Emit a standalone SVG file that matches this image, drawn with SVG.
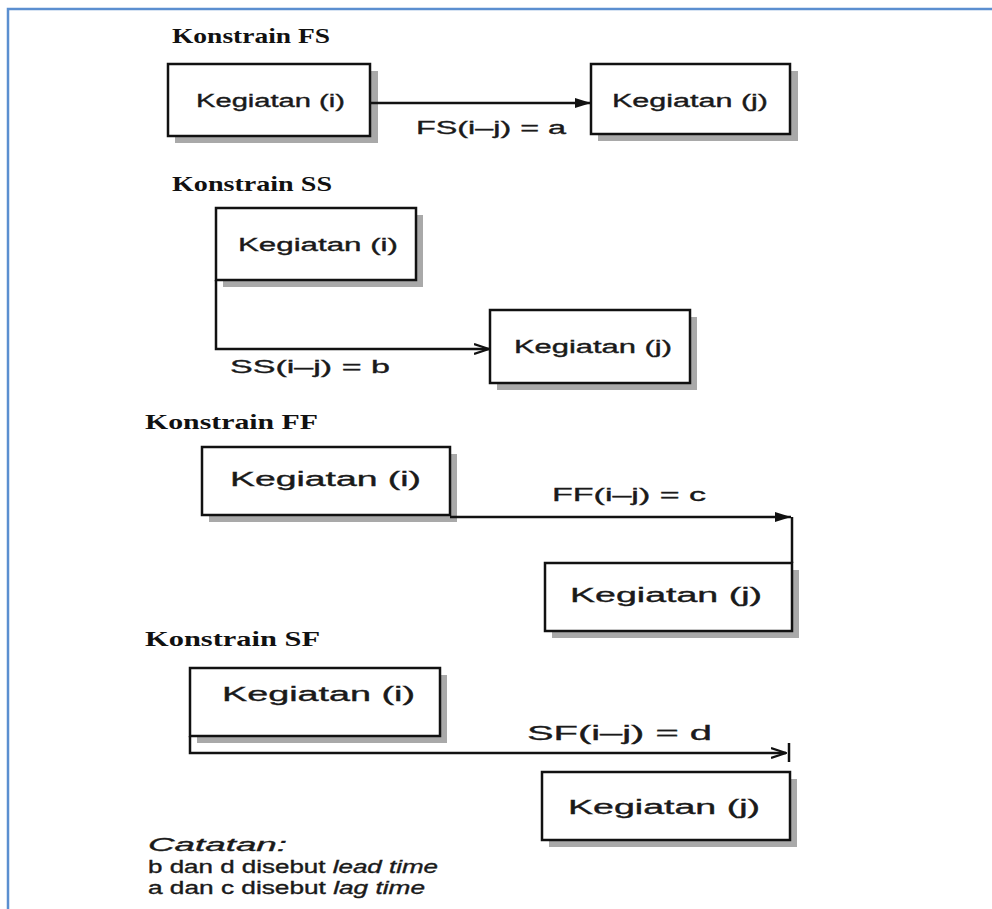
<svg xmlns="http://www.w3.org/2000/svg" width="992" height="909" viewBox="0 0 992 909">
<style>
.frame{fill:none;stroke:#5b8fd0;stroke-width:2.5}
.box{fill:#fff;stroke:#111;stroke-width:2.5}
.shadow{fill:#a9a9a9}
.t{font-family:"Liberation Sans",Arial,sans-serif;fill:#1a1a1a;stroke:#1a1a1a;stroke-width:0.35}
.title{font-family:"Liberation Serif","Times New Roman",serif;font-weight:bold;fill:#111;font-size:21px}
.conn{fill:none;stroke:#111;stroke-width:2.5}
</style>
<defs>
<marker id="filled" viewBox="0 0 16 10" refX="16" refY="5" markerWidth="16" markerHeight="10" markerUnits="userSpaceOnUse" orient="auto">
<path d="M0,0 L16,5 L0,10 Z" fill="#111"/>
</marker>
<marker id="open" viewBox="0 0 16 12" refX="15" refY="6" markerWidth="16" markerHeight="12" markerUnits="userSpaceOnUse" orient="auto">
<path d="M0,1 L15,6 L0,11" fill="none" stroke="#111" stroke-width="2.2"/>
</marker>
</defs>
<rect width="992" height="909" fill="#fff"/>
<path class="frame" d="M8,909 V9 H992"/>

<text class="title" x="172" y="43" textLength="158" lengthAdjust="spacingAndGlyphs">Konstrain FS</text>
<text class="title" x="172" y="191" textLength="160" lengthAdjust="spacingAndGlyphs">Konstrain SS</text>
<text class="title" x="145" y="429" textLength="173" lengthAdjust="spacingAndGlyphs">Konstrain FF</text>
<text class="title" x="145" y="646" textLength="175" lengthAdjust="spacingAndGlyphs">Konstrain SF</text>

<g id="fs-i">
<rect class="shadow" x="175" y="71" width="203" height="72"/>
<rect class="box" x="168" y="64" width="202" height="72"/>
<text class="t" x="196" y="107" font-size="18" textLength="149" lengthAdjust="spacingAndGlyphs">Kegiatan (i)</text>
</g>
<g id="fs-j">
<rect class="shadow" x="598" y="71" width="200" height="70"/>
<rect class="box" x="591" y="64" width="199" height="70"/>
<text class="t" x="612" y="107" font-size="18" textLength="156" lengthAdjust="spacingAndGlyphs">Kegiatan (j)</text>
</g>

<g id="ss-i">
<rect class="shadow" x="223" y="215" width="200" height="72"/>
<rect class="box" x="216" y="208" width="200" height="72"/>
<text class="t" x="238" y="251" font-size="18" textLength="160" lengthAdjust="spacingAndGlyphs">Kegiatan (i)</text>
</g>
<g id="ss-j">
<rect class="shadow" x="497" y="317" width="200" height="73"/>
<rect class="box" x="490" y="310" width="200" height="73"/>
<text class="t" x="514" y="353" font-size="18" textLength="158" lengthAdjust="spacingAndGlyphs">Kegiatan (j)</text>
</g>

<g id="ff-i">
<rect class="shadow" x="209" y="454" width="248" height="68"/>
<rect class="box" x="202" y="447" width="248" height="68"/>
<text class="t" x="230" y="486" font-size="20" textLength="191" lengthAdjust="spacingAndGlyphs">Kegiatan (i)</text>
</g>
<g id="ff-j">
<rect class="shadow" x="552" y="570" width="247" height="68"/>
<rect class="box" x="545" y="563" width="247" height="68"/>
<text class="t" x="570" y="602" font-size="20" textLength="192" lengthAdjust="spacingAndGlyphs">Kegiatan (j)</text>
</g>

<g id="sf-i">
<rect class="shadow" x="197" y="675" width="250" height="68"/>
<rect class="box" x="190" y="668" width="250" height="68"/>
<text class="t" x="222" y="701" font-size="20" textLength="193" lengthAdjust="spacingAndGlyphs">Kegiatan (i)</text>
</g>
<g id="sf-j">
<rect class="shadow" x="549" y="779" width="248" height="68"/>
<rect class="box" x="542" y="772" width="248" height="68"/>
<text class="t" x="568" y="814" font-size="20" textLength="192" lengthAdjust="spacingAndGlyphs">Kegiatan (j)</text>
</g>

<g id="connectors">
<path class="conn" d="M370,103 H591" marker-end="url(#filled)"/>
<path class="conn" d="M216,280 V349 H489" marker-end="url(#open)"/>
<path class="conn" d="M450,517 H791" marker-end="url(#filled)"/>
<path class="conn" d="M792,517 V563"/>
<path class="conn" d="M190,736 V753 H786" marker-end="url(#open)"/>
<path class="conn" d="M789,743 V762"/>
</g>

<g id="labels">
<text class="t" x="416" y="134" font-size="18" textLength="150" lengthAdjust="spacingAndGlyphs">FS(i–j) = a</text>
<text class="t" x="230" y="373" font-size="18" textLength="160" lengthAdjust="spacingAndGlyphs">SS(i–j) = b</text>
<text class="t" x="552" y="501" font-size="19" textLength="154" lengthAdjust="spacingAndGlyphs">FF(i–j) = c</text>
<text class="t" x="527" y="740" font-size="20" textLength="185" lengthAdjust="spacingAndGlyphs">SF(i–j) = d</text>
</g>

<g id="notes">
<text class="t" x="148" y="851" font-size="18" font-style="italic" textLength="139" lengthAdjust="spacingAndGlyphs">Catatan:</text>
<text class="t" x="148" y="873" font-size="18" textLength="290" lengthAdjust="spacingAndGlyphs">b dan d disebut <tspan font-style="italic">lead time</tspan></text>
<text class="t" x="148" y="894" font-size="18" textLength="277" lengthAdjust="spacingAndGlyphs">a dan c disebut <tspan font-style="italic">lag time</tspan></text>
</g>
</svg>
